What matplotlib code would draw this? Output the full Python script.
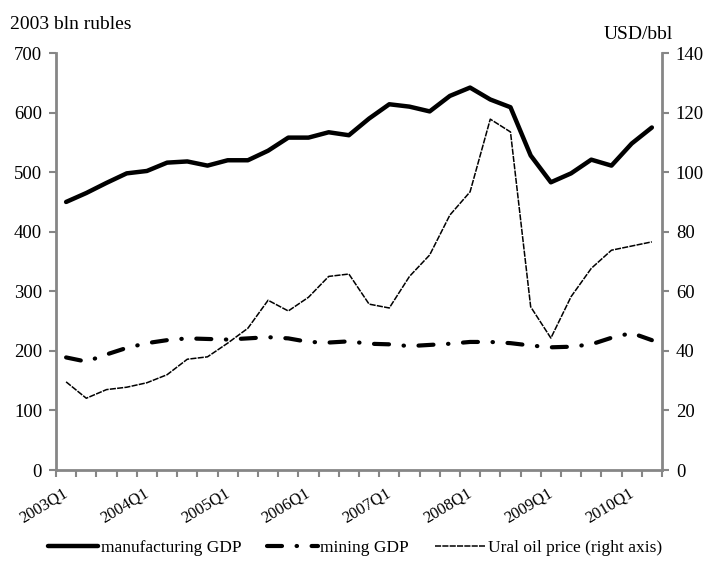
import matplotlib.pyplot as plt
import matplotlib.ticker as ticker
from matplotlib.transforms import ScaledTranslation
import numpy as np

plt.rcParams['font.family'] = ['Liberation Serif', 'DejaVu Serif']

# quarters 2003Q1 .. 2010Q2
quarters = [f"{y}Q{q}" for y in range(2003, 2011) for q in range(1, 5)][:30]

manufacturing = [450, 465, 482, 498, 502, 516, 518, 511, 520, 520,
                 536, 558, 558, 567, 562, 590, 614, 610, 602, 628,
                 642, 622, 609, 528, 483, 498, 521, 511, 548, 575]
mining = [189, 182, 194, 205, 213, 218, 221, 220, 219, 221,
          223, 221, 215, 214, 216, 212, 211, 208, 210, 212,
          215, 215, 213, 209, 206, 207, 211, 222, 230, 218]
oil = [29.6, 24.1, 27.0, 27.8, 29.3, 32.0, 37.2, 38.0, 42.6, 47.6,
       57.0, 53.4, 58.0, 65.0, 65.8, 55.7, 54.4, 65.0, 72.2, 85.6,
       93.4, 117.8, 113.5, 54.8, 44.3, 58.2, 67.7, 73.8, 75.2, 76.6]

x = np.arange(len(quarters))
grey = '#868686'

fig = plt.figure(figsize=(7.07, 5.77), dpi=100)
ax = fig.add_axes([0.0792, 0.1854, 0.8571, 0.7227])
ax2 = ax.twinx()

l1, = ax.plot(x, manufacturing, color='black', linewidth=3.2,
              solid_joinstyle='round', solid_capstyle='round')
l2, = ax.plot(x, mining, color='black', linewidth=3.0,
              linestyle=(0, (3.6, 3.5, 0.1, 3.5)), dash_capstyle='round')
l3, = ax2.plot(x, oil, color='black', linewidth=1.1,
               linestyle=(0, (4, 0.8)))

ax.set_xlim(-0.5, len(x) - 0.5)
ax.set_ylim(0, 700)
ax2.set_ylim(0, 140)
ax.yaxis.set_major_locator(ticker.MultipleLocator(100))
ax2.yaxis.set_major_locator(ticker.MultipleLocator(20))

# ticks between categories, labels every 4th quarter
ax.set_xticks(np.arange(-0.5, len(x), 1))
ax.set_xticklabels([])
ax.set_xticks(x[::4], minor=True)
ax.set_xticklabels(quarters[::4], minor=True, rotation=31, ha='right',
                   va='top', rotation_mode='anchor', fontsize=12)
ax.tick_params(axis='x', which='minor', length=0, pad=11)
ax.tick_params(axis='x', which='major', length=5, width=1.5, color=grey,
               direction='out')
shift = ScaledTranslation(-2.5 / 72, 0, fig.dpi_scale_trans)
for lbl in ax.get_xticklabels(minor=True):
    lbl.set_transform(lbl.get_transform() + shift)

for a in (ax, ax2):
    for s in a.spines.values():
        s.set_visible(False)
    a.tick_params(axis='y', length=5, width=1.5, color=grey, labelsize=13.5,
                  pad=5)
ax.spines['left'].set_visible(True)
ax.spines['bottom'].set_visible(True)
ax2.spines['right'].set_visible(True)
for s in (ax.spines['left'], ax.spines['bottom'], ax2.spines['right']):
    s.set_color(grey)
    s.set_linewidth(2)

fig.text(0.014, 0.958, '2003 bln rubles', fontsize=14, va='center')
fig.text(0.952, 0.941, 'USD/bbl', fontsize=14, va='center', ha='right')

fig.legend([l1, l2, l3],
           ['manufacturing GDP', 'mining GDP', 'Ural oil price (right axis)'],
           loc='center', bbox_to_anchor=(0.502, 0.05), ncol=3, frameon=False,
           fontsize=12.5, handlelength=2.9, handletextpad=0.15,
           columnspacing=1.5)

fig.savefig('out.png', dpi=100)
